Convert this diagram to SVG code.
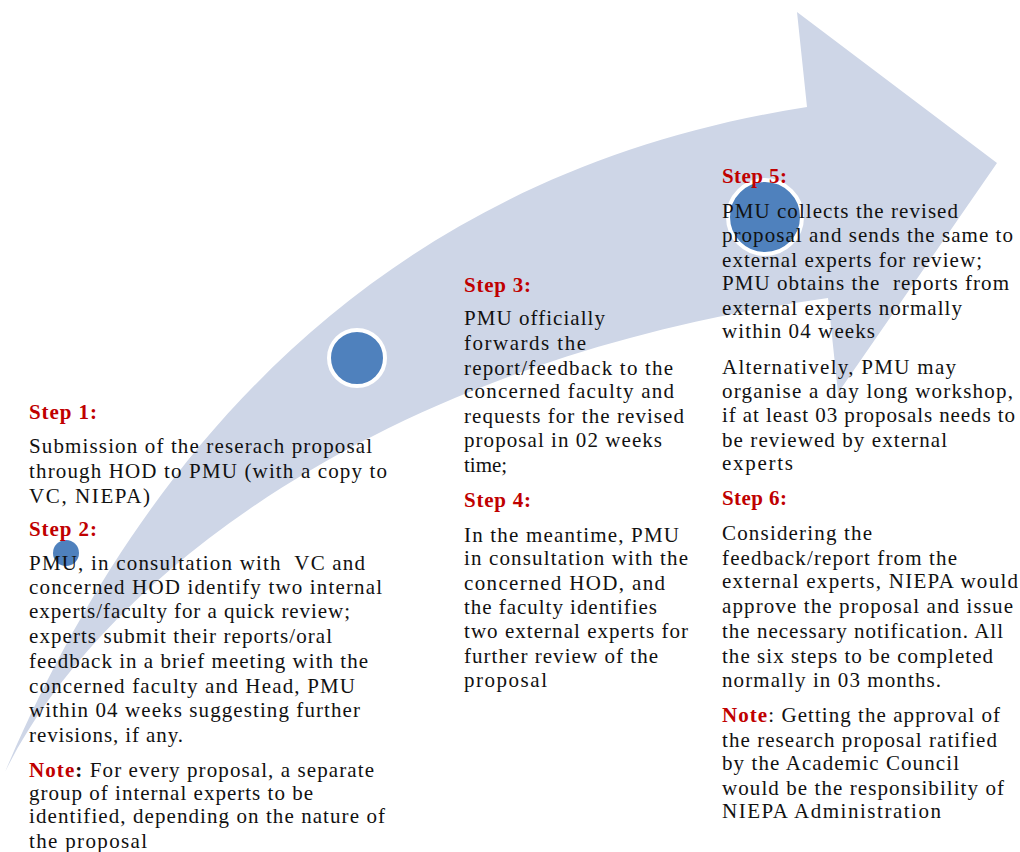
<svg xmlns="http://www.w3.org/2000/svg" width="1020" height="852" viewBox="0 0 1020 852">
<style>
.arrow{fill:#CED6E7;stroke:none}
.dot{fill:#4F81BD}
.ring{fill:#4F81BD;stroke:#FFFFFF;stroke-width:4}
text{font-family:"Liberation Serif","Times New Roman",serif;font-size:21px;fill:#111111}
.h{font-weight:bold;fill:#C00000}
.r{fill:#C00000;font-weight:bold}
.b{font-weight:bold}
.pre{white-space:pre}
</style>
<rect x="0" y="0" width="1020" height="852" fill="#FFFFFF"/>
<g id="arrow-background">
<path class="arrow" d="M 5 772 C 150 430, 400 170, 807 107 L 797 12 L 997 163 L 838 393 L 828 298 C 380 360, 100 580, 5 772 Z"/>
</g>
<g id="markers">
<circle class="ring" cx="357" cy="358" r="28"/>
<circle class="ring" cx="765" cy="217" r="37"/>
<circle class="dot" cx="66" cy="553" r="13"/>
</g>
<g id="step1">
<text class="h" x="29" y="419" textLength="68" lengthAdjust="spacing">Step 1:</text>
<text x="29" y="453" textLength="343" lengthAdjust="spacing">Submission of the reserach proposal</text>
<text x="29" y="478" textLength="358" lengthAdjust="spacing">through HOD to PMU (with a copy to</text>
<text x="29" y="503" textLength="121" lengthAdjust="spacing">VC, NIEPA)</text>
</g>
<g id="step2">
<text class="h" x="29" y="536" textLength="68" lengthAdjust="spacing">Step 2:</text>
<text class="pre" x="29" y="570" textLength="336" lengthAdjust="spacing">PMU, in consultation with  VC and</text>
<text x="29" y="594" textLength="353" lengthAdjust="spacing">concerned HOD identify two internal</text>
<text x="29" y="618" textLength="321" lengthAdjust="spacing">experts/faculty for a quick review;</text>
<text x="29" y="643" textLength="303" lengthAdjust="spacing">experts submit their reports/oral</text>
<text x="29" y="668" textLength="339" lengthAdjust="spacing">feedback in a brief meeting with the</text>
<text x="29" y="693" textLength="326" lengthAdjust="spacing">concerned faculty and Head, PMU</text>
<text x="29" y="717" textLength="331" lengthAdjust="spacing">within 04 weeks suggesting further</text>
<text x="29" y="742" textLength="154" lengthAdjust="spacing">revisions, if any.</text>
<text x="29" y="777" textLength="345" lengthAdjust="spacing"><tspan class="r">Note</tspan><tspan class="b">:</tspan> For every proposal, a separate</text>
<text x="29" y="800" textLength="284" lengthAdjust="spacing">group of internal experts to be</text>
<text x="29" y="823" textLength="356" lengthAdjust="spacing">identified, depending on the nature of</text>
<text x="29" y="848" textLength="118" lengthAdjust="spacing">the proposal</text>
</g>
<g id="step3">
<text class="h" x="464" y="292" textLength="67" lengthAdjust="spacing">Step 3:</text>
<text x="464" y="325" textLength="141" lengthAdjust="spacing">PMU officially</text>
<text x="464" y="350" textLength="122" lengthAdjust="spacing">forwards the</text>
<text x="464" y="375" textLength="209" lengthAdjust="spacing">report/feedback to the</text>
<text x="464" y="398" textLength="210" lengthAdjust="spacing">concerned faculty and</text>
<text x="464" y="423" textLength="220" lengthAdjust="spacing">requests for the revised</text>
<text x="464" y="447" textLength="198" lengthAdjust="spacing">proposal in 02 weeks</text>
<text x="464" y="472">time;</text>
</g>
<g id="step4">
<text class="h" x="464" y="507" textLength="67" lengthAdjust="spacing">Step 4:</text>
<text x="464" y="542" textLength="215" lengthAdjust="spacing">In the meantime, PMU</text>
<text x="464" y="565" textLength="224" lengthAdjust="spacing">in consultation with the</text>
<text x="464" y="590" textLength="201" lengthAdjust="spacing">concerned HOD, and</text>
<text x="464" y="614" textLength="193" lengthAdjust="spacing">the faculty identifies</text>
<text x="464" y="638" textLength="224" lengthAdjust="spacing">two external experts for</text>
<text x="464" y="663" textLength="194" lengthAdjust="spacing">further review of the</text>
<text x="464" y="687" textLength="83" lengthAdjust="spacing">proposal</text>
</g>
<g id="step5">
<text class="h" x="722" y="183" textLength="65" lengthAdjust="spacing">Step 5:</text>
<text x="722" y="218" textLength="236" lengthAdjust="spacing">PMU collects the revised</text>
<text x="722" y="242" textLength="291" lengthAdjust="spacing">proposal and sends the same to</text>
<text x="722" y="267" textLength="260" lengthAdjust="spacing">external experts for review;</text>
<text class="pre" x="722" y="290" textLength="287" lengthAdjust="spacing">PMU obtains the  reports from</text>
<text x="722" y="315" textLength="240" lengthAdjust="spacing">external experts normally</text>
<text x="722" y="338" textLength="153" lengthAdjust="spacing">within 04 weeks</text>
<text x="722" y="374" textLength="234" lengthAdjust="spacing">Alternatively, PMU may</text>
<text x="722" y="398" textLength="291" lengthAdjust="spacing">organise a day long workshop,</text>
<text x="722" y="422" textLength="293" lengthAdjust="spacing">if at least 03 proposals needs to</text>
<text x="722" y="447" textLength="225" lengthAdjust="spacing">be reviewed by external</text>
<text x="722" y="470" textLength="71" lengthAdjust="spacing">experts</text>
</g>
<g id="step6">
<text class="h" x="722" y="505" textLength="65" lengthAdjust="spacing">Step 6:</text>
<text x="722" y="540" textLength="150" lengthAdjust="spacing">Considering the</text>
<text x="722" y="565" textLength="235" lengthAdjust="spacing">feedback/report from the</text>
<text x="722" y="588" textLength="296" lengthAdjust="spacing">external experts, NIEPA would</text>
<text x="722" y="613" textLength="291" lengthAdjust="spacing">approve the proposal and issue</text>
<text x="722" y="638" textLength="281" lengthAdjust="spacing">the necessary notification. All</text>
<text x="722" y="663" textLength="271" lengthAdjust="spacing">the six steps to be completed</text>
<text x="722" y="687" textLength="219" lengthAdjust="spacing">normally in 03 months.</text>
<text x="722" y="722" textLength="278" lengthAdjust="spacing"><tspan class="r">Note</tspan>: Getting the approval of</text>
<text x="722" y="747" textLength="275" lengthAdjust="spacing">the research proposal ratified</text>
<text x="722" y="770" textLength="237" lengthAdjust="spacing">by the Academic Council</text>
<text x="722" y="795" textLength="282" lengthAdjust="spacing">would be the responsibility of</text>
<text x="722" y="818" textLength="219" lengthAdjust="spacing">NIEPA Administration</text>
</g>
</svg>
